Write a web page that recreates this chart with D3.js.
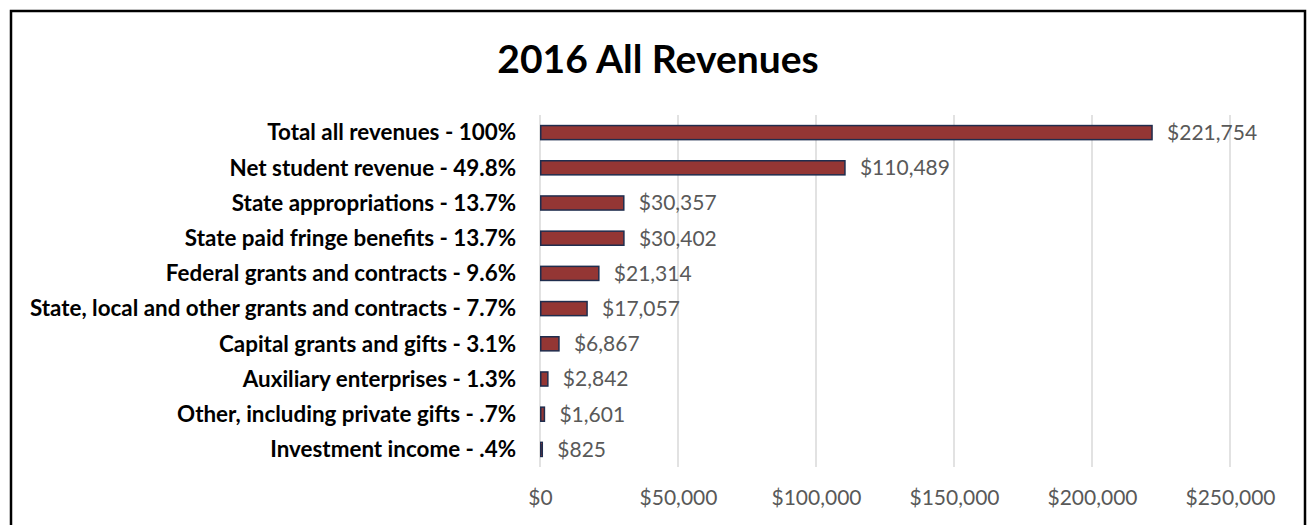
<!DOCTYPE html>
<html>
<head>
<meta charset="utf-8">
<script src="https://cdn.jsdelivr.net/npm/d3@7"></script>
<style>
  html, body { margin: 0; padding: 0; background: #fff; }
  svg { display: block; font-family: Lato, "Open Sans", sans-serif; }
</style>
</head>
<body>
<svg id="chart"></svg>
<script>
"use strict";

// ── Data ──────────────────────────────────────────────────────────────────────
const categories = [
  "Total all revenues - 100%",
  "Net student revenue - 49.8%",
  "State appropriations - 13.7%",
  "State paid fringe benefits - 13.7%",
  "Federal grants and contracts - 9.6%",
  "State, local and other grants and contracts - 7.7%",
  "Capital grants and gifts - 3.1%",
  "Auxiliary enterprises - 1.3%",
  "Other, including private gifts - .7%",
  "Investment income - .4%"
];
const values = [221754, 110489, 30357, 30402, 21314, 17057, 6867, 2842, 1601, 825];
const xTicks = [0, 50000, 100000, 150000, 200000, 250000];
const title = "2016 All Revenues";

// ── Layout ────────────────────────────────────────────────────────────────────
const W = 1308, H = 525;
const plot = { left: 540, right: 1230, top: 115, bottom: 467 };
const money = d => "$" + d3.format(",")(d);

const svg = d3.select("#chart").attr("width", W).attr("height", H);

// frame (open at the bottom, cropped by the window)
svg.append("rect")
  .attr("x", 11).attr("y", 11)
  .attr("width", 1294).attr("height", 540)
  .attr("fill", "none").attr("stroke", "#000").attr("stroke-width", 2.5);

svg.append("text")
  .attr("x", 658).attr("y", 73)
  .attr("text-anchor", "middle")
  .attr("font-size", 39).attr("font-weight", 700)
  .attr("fill", "#000")
  .text(title);

const x = d3.scaleLinear().domain([0, 250000]).range([plot.left, plot.right]);
const y = d3.scaleBand().domain(categories).range([plot.top, plot.bottom])
  .paddingInner(0.6).paddingOuter(0.3);

// gridlines
svg.append("g").selectAll("line")
  .data(xTicks)
  .join("line")
  .attr("x1", d => x(d)).attr("x2", d => x(d))
  .attr("y1", plot.top).attr("y2", plot.bottom)
  .attr("stroke", "#d9d9d9").attr("stroke-width", 1.5);

// x axis tick labels
const xAxis = d3.axisBottom(x).tickValues(xTicks)
  .tickFormat(money).tickSize(0).tickPadding(0);
const gx = svg.append("g").attr("transform", `translate(0, ${plot.bottom + 23})`).call(xAxis);
gx.select(".domain").remove();
gx.selectAll("text")
  .attr("font-family", "Lato, sans-serif")
  .attr("font-size", 21).attr("fill", "#595959");

// category labels
svg.append("g").selectAll("text")
  .data(categories)
  .join("text")
  .attr("x", plot.left - 24)
  .attr("y", d => y(d) + y.bandwidth() / 2)
  .attr("dy", "0.35em")
  .attr("text-anchor", "end")
  .attr("font-size", 22.4).attr("font-weight", 700)
  .attr("fill", "#000")
  .text(d => d);

// bars
const rows = categories.map((c, i) => ({ cat: c, val: values[i] }));
svg.append("g").selectAll("rect")
  .data(rows)
  .join("rect")
  .attr("x", x(0) + 0.75)
  .attr("y", d => y(d.cat))
  .attr("width", d => Math.max(0, x(d.val) - x(0) - 0.75))
  .attr("height", y.bandwidth())
  .attr("fill", "#943634")
  .attr("stroke", "#1f2d4e").attr("stroke-width", 1.5);

// value labels
svg.append("g").selectAll("text")
  .data(rows)
  .join("text")
  .attr("x", d => x(d.val) + 15)
  .attr("y", d => y(d.cat) + y.bandwidth() / 2)
  .attr("dy", "0.35em")
  .attr("font-size", 21).attr("fill", "#595959")
  .text(d => money(d.val));
</script>
</body>
</html>
